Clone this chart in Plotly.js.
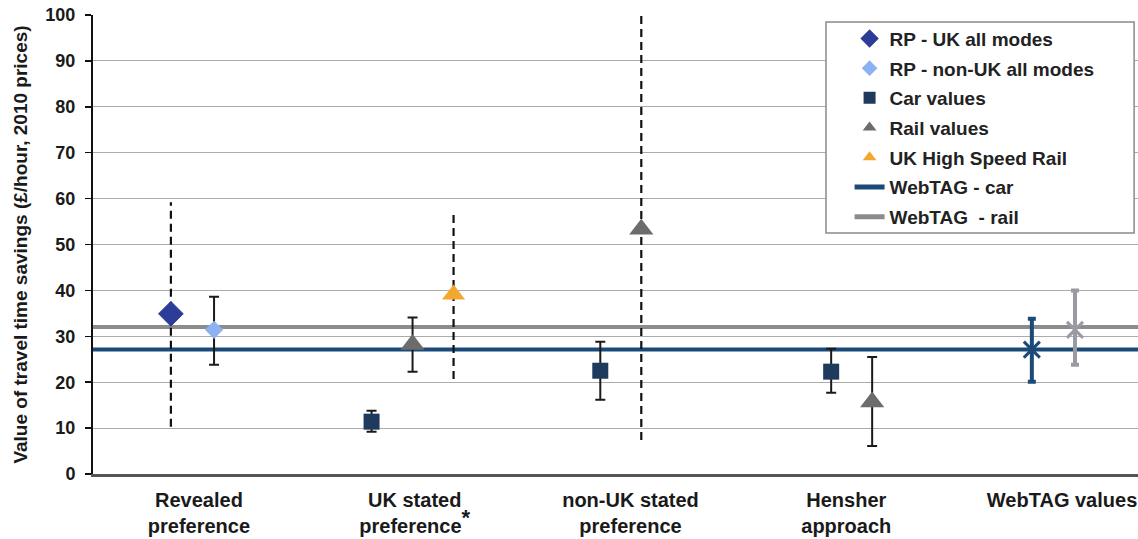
<!DOCTYPE html>
<html>
<head>
<meta charset="utf-8">
<script src="https://cdn.plot.ly/plotly-3.0.1.min.js"></script>
<style>
  html, body { margin: 0; padding: 0; background: #fff; }
  #chart { width: 1138px; height: 539px; }
</style>
</head>
<body>
<div id="chart"></div>
<script>
// ---- Data ----
const categories = ['Revealed<br>preference', 'UK stated<br>preference<sup><span style="font-size:22px">*</span></sup>', 'non-UK stated<br>preference', 'Hensher<br>approach', 'WebTAG values'];
const categoryPos = [0, 1, 2, 3, 4];

// RP - UK all modes (point + dashed range)
const rpUkX = [-0.13];
const rpUkY = [34.9];
const rpUkMin = [10.3];
const rpUkMax = [59.2];

// RP - non-UK all modes (point + error bar)
const rpNonUkX = [0.07];
const rpNonUkY = [31.4];
const rpNonUkHi = [38.6];
const rpNonUkLo = [23.8];

// Car values: UK stated, non-UK stated, Hensher
const carX = [0.80, 1.86, 2.93];
const carY = [11.4, 22.5, 22.3];
const carHi = [13.8, 28.8, 27.3];
const carLo = [9.2, 16.2, 17.7];

// Rail values: UK stated, non-UK stated, Hensher
const railX = [0.99, 2.05, 3.12];
const railY = [28.2, 53.3, 15.7];
const railHi = [34.1, null, 25.5];
const railLo = [22.3, null, 6.1];
const railRangeX = [2.05];
const railRangeMin = [7.4];
const railRangeMax = [100];

// UK High Speed Rail (point + dashed range)
const hsrX = [1.18];
const hsrY = [39.1];
const hsrMin = [20.7];
const hsrMax = [57.4];

// WebTAG values
const webtagCarX = [3.86];
const webtagCarY = [27.1];
const webtagCarHi = [33.8];
const webtagCarLo = [20.1];
const webtagRailX = [4.06];
const webtagRailY = [31.4];
const webtagRailHi = [40.0];
const webtagRailLo = [23.8];
const webtagCarLine = 27.1;
const webtagRailLine = 32.0;

// ---- Layout constants ----
const xRange = [-0.491, 4.352];
const FONT = 'Liberation Sans, Arial, sans-serif';

function errPlus(y, hi) { return y.map((v, i) => hi[i] == null ? NaN : hi[i] - v); }
function errMinus(y, lo) { return y.map((v, i) => lo[i] == null ? NaN : v - lo[i]); }
function rangeSeg(xs, mins, maxs) {
  const x = [], y = [];
  xs.forEach((xv, i) => { x.push(xv, xv, null); y.push(mins[i], maxs[i], null); });
  return {x, y};
}
const rangesX = [], rangesY = [];
[rangeSeg(rpUkX, rpUkMin, rpUkMax), rangeSeg(hsrX, hsrMin, hsrMax), rangeSeg(railRangeX, railRangeMin, railRangeMax)]
  .forEach(s => { rangesX.push(...s.x); rangesY.push(...s.y); });

const errStyle = {type: 'data', symmetric: false, color: '#1a1a1a', thickness: 2, width: 5};

const traces = [
  {
    name: 'WebTAG - car', x: xRange, y: [webtagCarLine, webtagCarLine],
    mode: 'lines', line: {color: '#1b4a78', width: 4}, legendrank: 6, legendgroup: 'g6',
    hoverinfo: 'skip'
  },
  {
    name: 'WebTAG  - rail', x: xRange, y: [webtagRailLine, webtagRailLine],
    mode: 'lines', line: {color: '#8c8c8c', width: 4}, legendrank: 7, legendgroup: 'g7',
    hoverinfo: 'skip'
  },
  {
    name: 'ranges', x: rangesX, y: rangesY, mode: 'lines', showlegend: false,
    line: {color: '#111', width: 2.2, dash: '8px,5px'}, hoverinfo: 'skip'
  },
  {
    name: 'WebTAG car value', x: webtagCarX, y: webtagCarY, mode: 'markers', showlegend: false,
    marker: {symbol: 'x-thin-open', size: 16, line: {color: '#1b4a78', width: 3}, color: '#1b4a78'},
    error_y: Object.assign({}, errStyle, {array: errPlus(webtagCarY, webtagCarHi), arrayminus: errMinus(webtagCarY, webtagCarLo), color: '#1b4a78', thickness: 4, width: 4})
  },
  {
    name: 'WebTAG rail value', x: webtagRailX, y: webtagRailY, mode: 'markers', showlegend: false,
    marker: {symbol: 'x-thin-open', size: 16, line: {color: '#9a9aa4', width: 3}, color: '#9a9aa4'},
    error_y: Object.assign({}, errStyle, {array: errPlus(webtagRailY, webtagRailHi), arrayminus: errMinus(webtagRailY, webtagRailLo), color: '#9a9aa4', thickness: 4, width: 4})
  },
  {
    name: 'RP - UK all modes', x: rpUkX, y: rpUkY, mode: 'markers', legendrank: 1, legendgroup: 'g1',
    marker: {symbol: 'diamond', size: 19, color: '#2b3d96', line: {color: '#2b3d96', width: 1}}
  },
  {
    name: 'RP - non-UK all modes', x: rpNonUkX, y: rpNonUkY, mode: 'markers', legendrank: 2, legendgroup: 'g2',
    marker: {symbol: 'diamond', size: 14, color: '#8db2f2'},
    error_y: Object.assign({}, errStyle, {array: errPlus(rpNonUkY, rpNonUkHi), arrayminus: errMinus(rpNonUkY, rpNonUkLo)})
  },
  {
    name: 'Car values', x: carX, y: carY, mode: 'markers', legendrank: 3, legendgroup: 'g3',
    marker: {symbol: 'square', size: 16, color: '#1e3a5c'},
    error_y: Object.assign({}, errStyle, {array: errPlus(carY, carHi), arrayminus: errMinus(carY, carLo)})
  },
  {
    name: 'Rail values', x: railX, y: railY, mode: 'markers', legendrank: 4, legendgroup: 'g4',
    marker: {symbol: 'triangle-up', size: 21, color: '#6c6c6c'},
    error_y: Object.assign({}, errStyle, {array: errPlus(railY, railHi), arrayminus: errMinus(railY, railLo)})
  },
  {
    name: 'UK High Speed Rail', x: hsrX, y: hsrY, mode: 'markers', legendrank: 5, legendgroup: 'g5',
    marker: {symbol: 'triangle-up', size: 20, color: '#f2a72e'}
  }
];

const layout = {
  width: 1138, height: 539,
  margin: {l: 93, r: 0, t: 15, b: 65, pad: 0},
  paper_bgcolor: '#ffffff', plot_bgcolor: '#ffffff',
  font: {family: FONT, color: '#1a1a1a', weight: 'bold'},
  showlegend: true,
  legend: {
    x: 0.724, y: 0.99, xanchor: 'left', yanchor: 'top',
    bgcolor: 'rgba(0,0,0,0)', borderwidth: 0,
    font: {family: FONT, size: 19, color: '#222', weight: 'bold'},
    traceorder: 'grouped', tracegroupgap: 2, itemsizing: 'constant'
  },
  xaxis: {
    range: xRange, tickmode: 'array', tickvals: categoryPos, ticktext: categories,
    showgrid: false, zeroline: false, showline: true, linecolor: '#555', linewidth: 3,
    ticks: '', tickfont: {family: FONT, size: 20, color: '#1a1a1a', weight: 'bold'},
    ticklabelstandoff: 6, fixedrange: true
  },
  yaxis: {
    range: [0, 100], dtick: 10, tick0: 0,
    showgrid: true, gridcolor: '#ababab', gridwidth: 1,
    zeroline: false, showline: true, linecolor: '#111', linewidth: 2,
    ticks: 'outside', ticklen: 6, tickwidth: 1.5, tickcolor: '#111',
    tickfont: {family: FONT, size: 18, color: '#1a1a1a', weight: 'bold'},
    ticklabelstandoff: 6,
    title: {text: 'Value of travel time savings (£/hour, 2010 prices)', font: {family: FONT, size: 19, color: '#1a1a1a', weight: 'bold'}, standoff: 13},
    fixedrange: true
  },
  shapes: [{
    type: 'rect', xref: 'x', yref: 'y', layer: 'between',
    x0: 2.906, x1: 4.334, y0: 52.5, y1: 98.5,
    fillcolor: '#ffffff', line: {color: '#8a8a8a', width: 1.5}
  }]
};

Plotly.newPlot('chart', traces, layout, {staticPlot: true, displayModeBar: false});
</script>
</body>
</html>
